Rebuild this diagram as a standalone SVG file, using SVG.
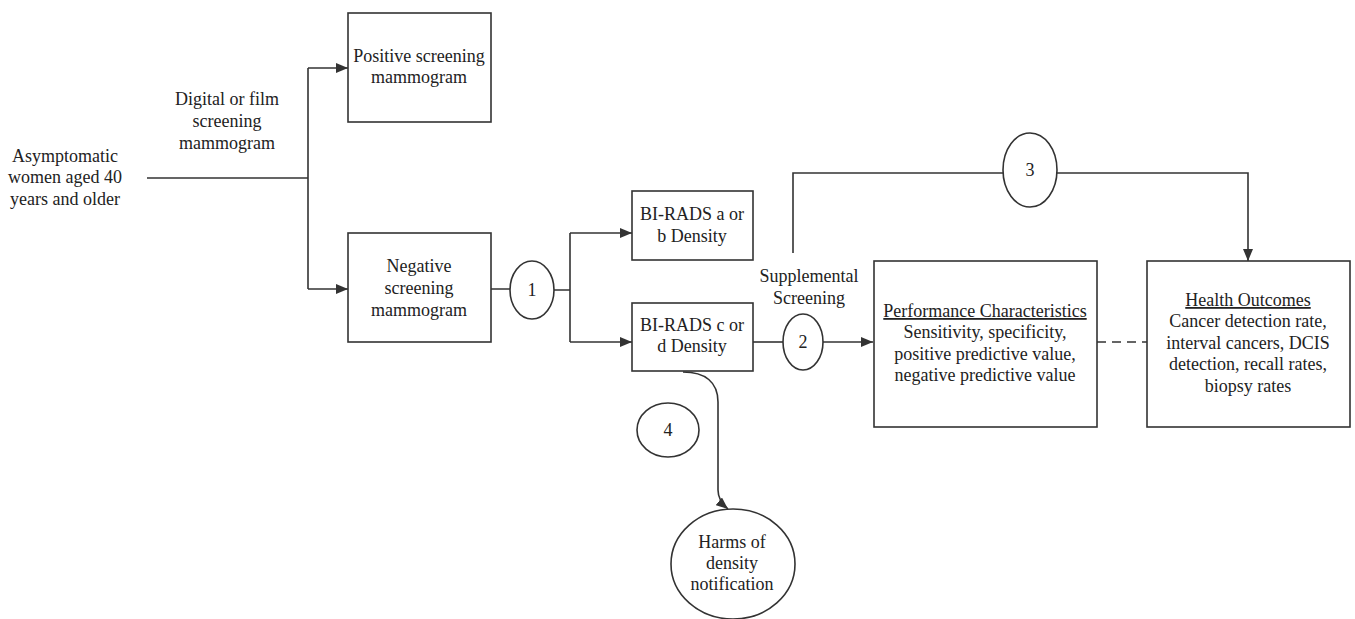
<svg xmlns="http://www.w3.org/2000/svg" width="1355" height="619" viewBox="0 0 1355 619" font-family="'Liberation Serif', Tinos, 'Times New Roman', Times, 'Nimbus Roman', 'DejaVu Serif', serif">
<defs>
<style>
text{font-family:'Liberation Serif', Tinos, 'Times New Roman', Times, 'Nimbus Roman', 'DejaVu Serif', serif;font-size:18px;fill:#222;text-anchor:middle}
.box{fill:#fff;stroke:#333;stroke-width:1.6}
.ln{fill:none;stroke:#333;stroke-width:1.6}
.arr{marker-end:url(#ah)}
.u{text-decoration:underline}
</style>
<marker id="ah" viewBox="0 0 12 10" refX="12" refY="5" markerWidth="12" markerHeight="10" markerUnits="userSpaceOnUse" orient="auto">
<path d="M0,0 L12,5 L0,10 z" fill="#333"/>
</marker>
</defs>
<rect width="1355" height="619" fill="#fff"/>
<g id="connectors">
<path class="ln" d="M147,178 H308 M308,68 V289"/>
<path class="ln arr" d="M308,68 H348"/>
<path class="ln arr" d="M308,289 H348"/>
<path class="ln" d="M491,289 H510 M554,290 H570 M570,233 V342"/>
<path class="ln arr" d="M570,233 H632"/>
<path class="ln arr" d="M570,342 H632"/>
<path class="ln" d="M753,342 H783"/>
<path class="ln arr" d="M823,342 H873"/>
<path class="ln" d="M793,253 V173 H1003"/>
<path class="ln arr" d="M1057,173 H1248 V261"/>
<path class="ln" d="M1097,342 H1147" stroke-dasharray="9,6"/>
<path class="ln arr" d="M683,372 C705,372 718,382 718,402 V490 C718,499 722,504 728,509"/>
</g>
<g id="start">
<text x="65" y="162">Asymptomatic</text>
<text x="65" y="183">women aged 40</text>
<text x="65" y="205">years and older</text>
</g>
<g id="label-digital">
<text x="227" y="105">Digital or film</text>
<text x="227" y="127">screening</text>
<text x="227" y="149">mammogram</text>
</g>
<g id="positive">
<rect class="box" x="348" y="13" width="143" height="109"/>
<text x="419" y="62">Positive screening</text>
<text x="419" y="83">mammogram</text>
</g>
<g id="negative">
<rect class="box" x="348" y="233" width="143" height="109"/>
<text x="419" y="272">Negative</text>
<text x="419" y="294">screening</text>
<text x="419" y="316">mammogram</text>
</g>
<g id="kq1">
<ellipse class="box" cx="532" cy="290" rx="22" ry="29"/>
<text x="532" y="296">1</text>
</g>
<g id="biradsab">
<rect class="box" x="632" y="191" width="121" height="69"/>
<text x="692" y="220">BI-RADS a or</text>
<text x="692" y="242">b Density</text>
</g>
<g id="biradscd">
<rect class="box" x="632" y="303" width="121" height="68"/>
<text x="692" y="331">BI-RADS c or</text>
<text x="692" y="352">d Density</text>
</g>
<g id="label-supp">
<text x="809" y="282">Supplemental</text>
<text x="809" y="304">Screening</text>
</g>
<g id="kq2">
<ellipse class="box" cx="803" cy="342" rx="20" ry="28"/>
<text x="803" y="348">2</text>
</g>
<g id="kq3">
<ellipse class="box" cx="1030" cy="170" rx="27" ry="37"/>
<text x="1030" y="176">3</text>
</g>
<g id="kq4">
<ellipse class="box" cx="668" cy="430" rx="31" ry="27"/>
<text x="668" y="436">4</text>
</g>
<g id="performance">
<rect class="box" x="874" y="261" width="223" height="166"/>
<text class="u" x="985" y="317">Performance Characteristics</text>
<text x="985" y="338">Sensitivity, specificity,</text>
<text x="985" y="360">positive predictive value,</text>
<text x="985" y="381">negative predictive value</text>
</g>
<g id="health">
<rect class="box" x="1147" y="261" width="203" height="166"/>
<text class="u" x="1248" y="306">Health Outcomes</text>
<text x="1248" y="327">Cancer detection rate,</text>
<text x="1248" y="349">interval cancers, DCIS</text>
<text x="1248" y="370">detection, recall rates,</text>
<text x="1248" y="392">biopsy rates</text>
</g>
<g id="harms">
<ellipse class="box" cx="733" cy="564" rx="62" ry="55"/>
<text x="732" y="548">Harms of</text>
<text x="732" y="569">density</text>
<text x="732" y="590">notification</text>
</g>
</svg>
